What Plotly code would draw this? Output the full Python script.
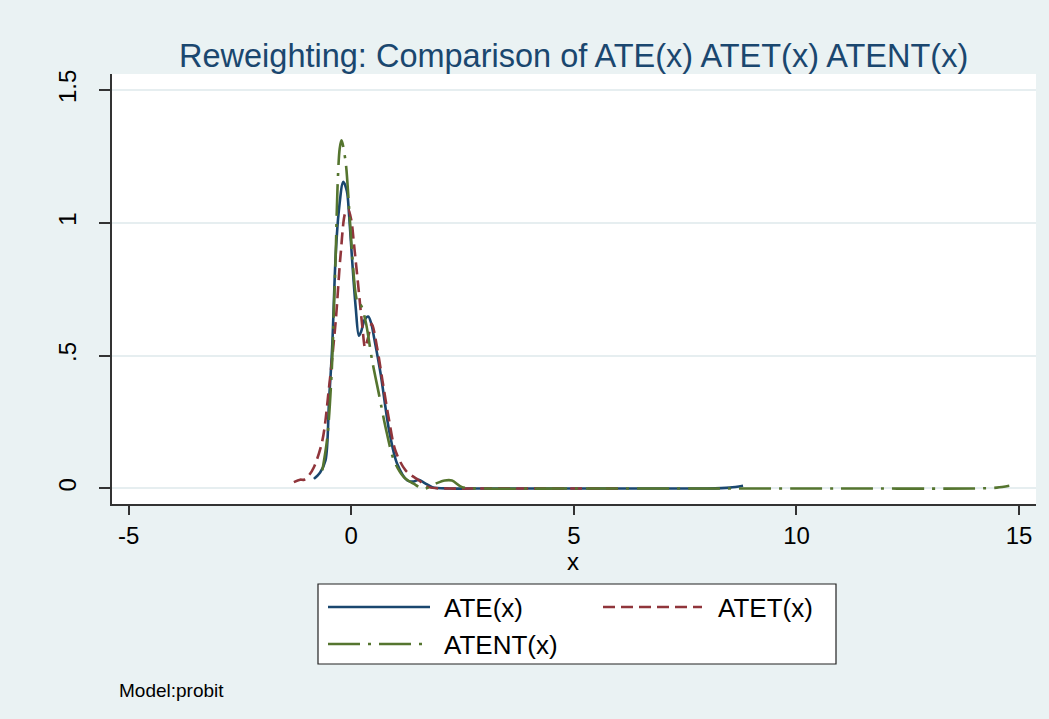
import plotly.graph_objects as go

# Kernel-smoothed treatment effect curves, reweighting estimator
ate_x = [-0.84, -0.7, -0.58, -0.5, -0.43, -0.35, -0.28, -0.18, -0.1, -0.05, 0.02, 0.1, 0.17,
         0.22, 0.3, 0.38, 0.45, 0.51, 0.66, 0.85, 1.03, 1.26, 1.4, 1.52, 1.65, 1.82, 2.2,
         3, 4, 5, 6, 7, 8, 8.5, 8.8]
ate_y = [0.036, 0.06, 0.105, 0.33, 0.53, 0.88, 1.045, 1.154, 1.12, 1.03, 0.857, 0.68, 0.575,
         0.59, 0.635, 0.647, 0.62, 0.569, 0.431, 0.218, 0.093, 0.03, 0.026, 0.033, 0.02, 0.005, 0.0,
         0, 0, 0, 0, 0, 0, 0.003, 0.01]

atet_x = [-1.29, -1.15, -1.06, -0.95, -0.84, -0.65, -0.5, -0.35, -0.24, -0.13, -0.07, 0.0, 0.06,
          0.16, 0.25, 0.31, 0.38, 0.46, 0.58, 0.7, 0.85, 0.99, 1.22, 1.52, 1.74, 2.2, 3, 4, 5, 6]
atet_y = [0.024, 0.033, 0.033, 0.05, 0.08, 0.18, 0.38, 0.63, 0.88, 1.04, 1.05, 1.01, 0.92,
          0.757, 0.606, 0.531, 0.57, 0.62, 0.53, 0.406, 0.256, 0.143, 0.068, 0.03, 0.005, 0, 0, 0, 0, 0]

atent_x = [-0.65, -0.54, -0.44, -0.39, -0.35, -0.31, -0.26, -0.22, -0.13, -0.05, 0.02, 0.1, 0.16,
           0.21, 0.32, 0.47, 0.62, 0.77, 0.96, 1.18, 1.4, 1.63, 1.89, 2.1, 2.26, 2.49, 3, 5, 8,
           11, 14, 14.5, 14.78]
atent_y = [0.068, 0.19, 0.44, 0.68, 0.88, 1.13, 1.28, 1.31, 1.233, 1.057, 0.88, 0.73, 0.69,
           0.69, 0.63, 0.48, 0.356, 0.23, 0.105, 0.043, 0.018, -0.001, 0.018, 0.03, 0.03, 0.005, 0, 0, 0,
           0, 0, 0.003, 0.01]

series_names = ["ATE(x)", "ATET(x)", "ATENT(x)"]
colors = ["#1a476f", "#90353b", "#55752f"]
dashes = ["solid", "12px,6px", "32px,8px,3px,8px"]

x_ticks = [-5, 0, 5, 10, 15]
x_tick_text = ["-5", "0", "5", "10", "15"]
y_ticks = [0, 0.5, 1, 1.5]
y_tick_text = ["0", ".5", "1", "1.5"]

title_text = "Reweighting: Comparison of ATE(x) ATET(x) ATENT(x)"
note_text = "Model:probit"

W, H = 1049, 719
M_L, M_R, M_T, M_B = 112, 13, 74, 215
FONT = "Liberation Sans, Arial, sans-serif"
BG = "#eaf2f3"


def px_x(px):
    return (px - M_L) / (W - M_L - M_R)


def px_y(py):
    return (H - M_B - py) / (H - M_T - M_B)


fig = go.Figure()
for xs, ys, name, c, d in zip([ate_x, atet_x, atent_x], [ate_y, atet_y, atent_y],
                              series_names, colors, dashes):
    fig.add_trace(go.Scatter(x=xs, y=ys, name=name, mode="lines",
                             line=dict(color=c, width=2.6, dash=d, shape="spline", smoothing=0.9),
                             showlegend=False))

# Legend box drawn below the plot region
shapes = [dict(type="rect", xref="paper", yref="paper",
               x0=px_x(318), x1=px_x(836), y0=px_y(664), y1=px_y(584),
               line=dict(color="#222222", width=1.2), fillcolor="white", layer="above")]
annotations = []
legend_rows = [(328, 430, 607, 442, 608), (603, 702, 607, 716, 608), (328, 430, 644, 442, 645)]
for (lx0, lx1, ly, tx, ty), name, c, d in zip(legend_rows, series_names, colors, dashes):
    shapes.append(dict(type="line", xref="paper", yref="paper",
                       x0=px_x(lx0), x1=px_x(lx1), y0=px_y(ly), y1=px_y(ly),
                       line=dict(color=c, width=2.4, dash=d), layer="above"))
    annotations.append(dict(xref="paper", yref="paper", x=px_x(tx), y=px_y(ty),
                            text=name, showarrow=False, xanchor="left", yanchor="middle",
                            font=dict(family=FONT, size=26, color="black")))

annotations.append(dict(xref="paper", yref="paper", x=px_x(573), y=px_y(56),
                        text=title_text, showarrow=False, xanchor="center", yanchor="middle",
                        font=dict(family=FONT, size=32.5, color="#1a476f")))
annotations.append(dict(xref="paper", yref="paper", x=px_x(573), y=px_y(561),
                        text="x", showarrow=False, xanchor="center", yanchor="middle",
                        font=dict(family=FONT, size=24, color="black")))
annotations.append(dict(xref="paper", yref="paper", x=px_x(117), y=px_y(690),
                        text=note_text, showarrow=False, xanchor="left", yanchor="middle",
                        font=dict(family=FONT, size=19, color="black")))

fig.update_layout(
    width=W, height=H,
    margin=dict(l=M_L, r=M_R, t=M_T, b=M_B),
    paper_bgcolor=BG, plot_bgcolor="white",
    font=dict(family=FONT, size=24, color="black"),
    shapes=shapes, annotations=annotations,
    xaxis=dict(range=[-5.375, 15.38], tickvals=x_ticks, ticktext=x_tick_text,
               ticks="outside", ticklen=9,
               tickwidth=1.5, tickcolor="#333333", showline=True, linecolor="#333333",
               linewidth=1.5, showgrid=False, zeroline=False,
               tickfont=dict(family=FONT, size=24, color="black")),
    yaxis=dict(range=[-0.0585, 1.560], tickvals=y_ticks, ticktext=y_tick_text,
               ticks="outside", ticklen=11, tickwidth=1.5, tickcolor="#333333",
               showline=True, linecolor="#333333", linewidth=1.5,
               showgrid=True, gridcolor="#e6eef0", gridwidth=2, zeroline=False,
               tickangle=-90, ticklabelstandoff=14,
               tickfont=dict(family=FONT, size=24, color="black")),
)

fig.write_html("out.html")
